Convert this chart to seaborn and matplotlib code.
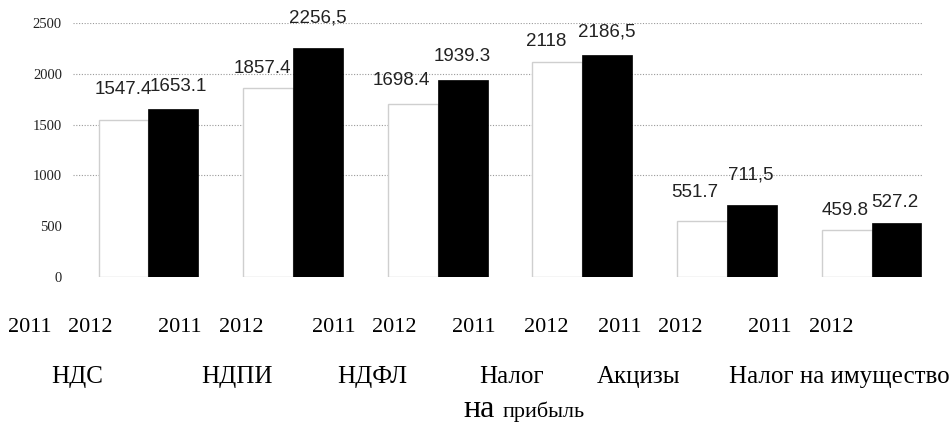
import matplotlib
matplotlib.use("Agg")
import matplotlib.pyplot as plt
import matplotlib.transforms as mtransforms
import seaborn as sns
import pandas as pd

# ---- data ----
categories = ["НДС", "НДПИ", "НДФЛ", "Налог на прибыль", "Акцизы", "Налог на имущество"]
years = ["2011", "2012"]
values_2011 = [1547.4, 1857.4, 1698.4, 2118, 551.7, 459.8]
values_2012 = [1653.1, 2256.5, 1939.3, 2186.5, 711.5, 527.2]
labels_2011 = ["1547.4", "1857.4", "1698.4", "2118", "551.7", "459.8"]
labels_2012 = ["1653.1", "2256,5", "1939.3", "2186,5", "711,5", "527.2"]
y_ticks = [0, 500, 1000, 1500, 2000, 2500]

df = pd.DataFrame({
    "category": categories * 2,
    "year": [years[0]] * len(categories) + [years[1]] * len(categories),
    "value": values_2011 + values_2012,
})

# ---- layout (pixel offsets of value labels from bar top centre) ----
off_2011 = [(0, 30), (-6, 20), (-11, 24), (-11, 20), (-7, 28), (-1, 20)]
off_2012 = [(5, 23), (0, 30), (0, 23), (-1, 23), (-1, 30), (-2, 21)]
# year label centres relative to group index (data units)
year_dx = [(-0.82, -0.40), (-0.78, -0.36), (-0.72, -0.30), (-0.75, -0.25), (-0.74, -0.32), (-0.70, -0.28)]
cat_dx = [-0.49, -0.39, -0.45, -0.49, -0.61, -0.22]

sns.set_theme(style="white")
plt.rcParams["font.family"] = ["Liberation Serif", "DejaVu Serif"]

fig = plt.figure(figsize=(9.53, 4.25), dpi=100)
W, H = 953, 425
ax = fig.add_axes([73 / W, 1 - 277 / H, 850 / W, 254 / H])

sns.barplot(data=df, x="category", y="value", hue="year", order=categories,
            hue_order=years, palette=["white", "black"], width=0.69,
            saturation=1, ax=ax, legend=False, zorder=3)

for p in ax.containers[0]:
    p.set_edgecolor("#cfcfcf")
    p.set_linewidth(1.0)
for p in ax.containers[1]:
    p.set_edgecolor("black")
    p.set_linewidth(0.5)

ax.set_xlim(-0.522, 5.356)
ax.set_ylim(0, 2500)
ax.set_yticks(y_ticks)
ax.set_yticklabels([str(t) for t in y_ticks], fontsize=10.5, color="#222222",
                   family=["Liberation Serif"])
ax.tick_params(axis="y", length=0, pad=8)
ax.set_xticks([])
ax.set_xlabel("")
ax.set_ylabel("")
for s in ax.spines.values():
    s.set_visible(False)

for t in y_ticks:
    if t >= 1000:
        ax.axhline(t, color="#9a9a9a", linestyle=(0, (1, 1.5)), linewidth=0.8, zorder=1)

# value labels
for cont, labs, offs in [(ax.containers[0], labels_2011, off_2011),
                         (ax.containers[1], labels_2012, off_2012)]:
    for p, lab, (dx, dy) in zip(cont, labs, offs):
        ax.annotate(lab, (p.get_x() + p.get_width() / 2, p.get_height()),
                    xytext=(dx, dy), textcoords="offset pixels",
                    ha="center", va="center", fontsize=13.5, color="#222222",
                    family=["Liberation Sans"], zorder=4, annotation_clip=False)

trans = mtransforms.blended_transform_factory(ax.transData, ax.transAxes)

# year labels
for i, (d1, d2) in enumerate(year_dx):
    for yr, d in zip(years, (d1, d2)):
        ax.text(i + d, -0.20, yr, transform=trans, ha="center", va="center",
                fontsize=16, color="black", clip_on=False)

# category labels
for i, (cat, d) in enumerate(zip(categories, cat_dx)):
    x = i + d
    if cat == "Налог на прибыль":
        ax.text(x, -0.394, "Налог", transform=trans, ha="center", va="center",
                fontsize=18, color="black", clip_on=False)
        ax.text(x - 0.22, -0.55, "на", transform=trans, ha="center", va="baseline",
                fontsize=23, color="black", clip_on=False)
        ax.text(x + 0.22, -0.55, "прибыль", transform=trans, ha="center", va="baseline",
                fontsize=16, color="black", clip_on=False)
    else:
        ax.text(x, -0.394, cat, transform=trans, ha="center", va="center",
                fontsize=18, color="black", clip_on=False)

fig.savefig("out.png", dpi=100, facecolor="white")
